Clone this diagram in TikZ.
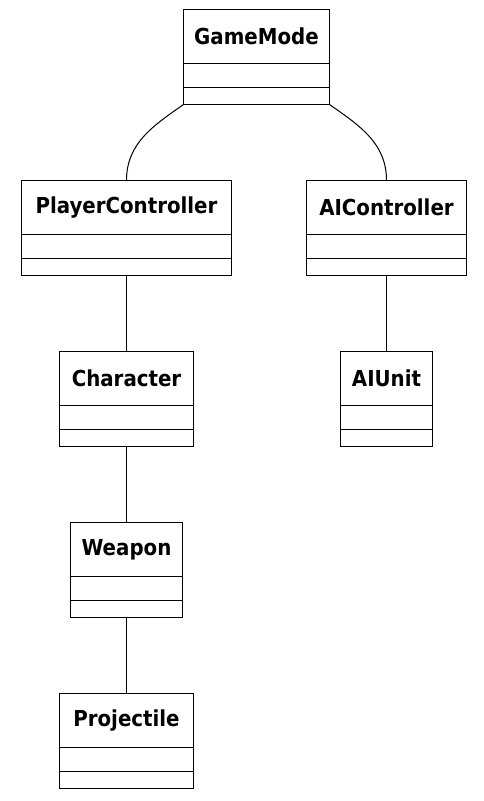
\documentclass[tikz,border=0pt]{standalone}
\usepackage{fontspec}
\setmainfont{DejaVu Sans Condensed}
\usepackage{tikz}
\usetikzlibrary{positioning}
\tikzstyle{classname}=[draw=black,line width=1pt,inner sep=0pt,outer sep=0pt,
                       minimum height=54pt,font=\fontsize{22}{26}\selectfont\bfseries]
\tikzstyle{classpart}=[draw=black,line width=1pt,inner sep=0pt,outer sep=0pt]
\tikzstyle{link}=[draw=black,line width=1pt]

\begin{document}
\begin{tikzpicture}[x=1pt,y=1pt]
    \useasboundingbox (0,0) rectangle (484,-801);
    % name box, attribute box, operation box
    \newcommand{\classbox}[5]{%
      \node (#1) at (#2,#3) [classname,minimum width=#4]{#5};
      \node (#1-attr) [classpart,below=0pt of #1,minimum width=#4,minimum height=24pt]{};
      \node (#1-op) [classpart,below=0pt of #1-attr,minimum width=#4,minimum height=17pt]{};
    }
    \classbox{gm}{256.5}{-36.5}{146pt}{GameMode}
    \classbox{pc}{126.5}{-207.5}{210pt}{PlayerController}
    \classbox{aic}{386.5}{-207.5}{160pt}{AIController}
    \classbox{chr}{126.5}{-378.5}{134pt}{Character}
    \classbox{aiu}{386.5}{-378.5}{92pt}{AIUnit}
    \classbox{wpn}{126.5}{-549.5}{112pt}{Weapon}
    \classbox{prj}{126.5}{-720.5}{134pt}{Projectile}
    \draw[link] (gm-op.south west) to[out=-145,in=90] (pc.north);
    \draw[link] (gm-op.south east) to[out=-35,in=90] (aic.north);
    \draw[link] (pc-op.south) -- (chr.north);
    \draw[link] (aic-op.south) -- (aiu.north);
    \draw[link] (chr-op.south) -- (wpn.north);
    \draw[link] (wpn-op.south) -- (prj.north);
  \end{tikzpicture}
\end{document}
